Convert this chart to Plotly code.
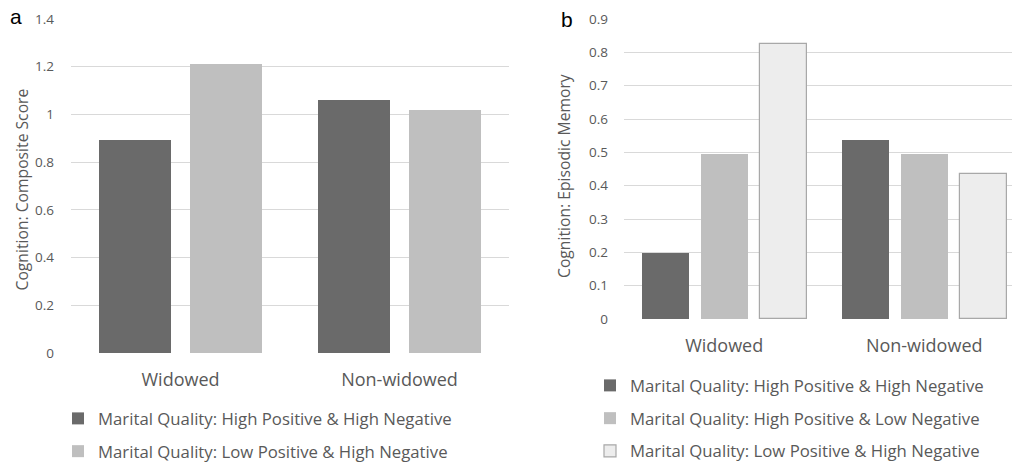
import plotly.graph_objects as go

categories = ["Widowed", "Non-widowed"]
a_names = ["Marital Quality: High Positive & High Negative",
           "Marital Quality: Low Positive & High Negative"]
a_hphn = [0.892, 1.061]
a_lphn = [1.211, 1.017]

b_names = ["Marital Quality: High Positive & High Negative",
           "Marital Quality: High Positive & Low Negative",
           "Marital Quality: Low Positive & High Negative"]
b_hphn = [0.197, 0.537]
b_hpln = [0.495, 0.495]
b_lphn = [0.824, 0.434]

a_ticks = [0, 0.2, 0.4, 0.6, 0.8, 1, 1.2, 1.4]
b_ticks = [0, 0.1, 0.2, 0.3, 0.4, 0.5, 0.6, 0.7, 0.8, 0.9]

a_ytitle = "Cognition: Composite Score"
b_ytitle = "Cognition: Episodic Memory"

DARK = "#6a6a6a"
LIGHT = "#bfbfbf"
LIGHTEST = "#ededed"
EDGE = "#a8a8a8"
GRID = "#d9d9d9"
TXT = "#595959"
FONT = "Open Sans"

W, H = 1012, 465

def px(x):
    return x / W

def py(y):
    return (H - y) / H

fig = go.Figure()

# Panel a
fig.add_trace(go.Bar(x=categories, y=a_hphn, name=a_names[0], marker=dict(color=DARK, line=dict(width=0)),
                     width=0.332, offset=-0.374, xaxis="x", yaxis="y", legend="legend", legendgroup="a1"))
fig.add_trace(go.Bar(x=categories, y=a_lphn, name=a_names[1], marker=dict(color=LIGHT, line=dict(width=0)),
                     width=0.332, offset=0.042, xaxis="x", yaxis="y", legend="legend", legendgroup="a2"))

# Panel b
fig.add_trace(go.Bar(x=categories, y=b_hphn, name=b_names[0], marker=dict(color=DARK, line=dict(width=0)),
                     width=0.235, offset=-0.4125, xaxis="x2", yaxis="y2", legend="legend2", legendgroup="b1"))
fig.add_trace(go.Bar(x=categories, y=b_hpln, name=b_names[1], marker=dict(color=LIGHT, line=dict(width=0)),
                     width=0.235, offset=-0.1175, xaxis="x2", yaxis="y2", legend="legend2", legendgroup="b2"))
fig.add_trace(go.Bar(x=categories, y=b_lphn, name=b_names[2], marker=dict(color=LIGHTEST, line=dict(width=1.2, color=EDGE)),
                     width=0.235, offset=0.1775, xaxis="x2", yaxis="y2", legend="legend2", legendgroup="b3"))

axis_common = dict(showline=False, zeroline=False, automargin=False)

fig.update_layout(
    width=W, height=H,
    margin=dict(l=0, r=0, t=0, b=0, autoexpand=False),
    paper_bgcolor="white", plot_bgcolor="white",
    font=dict(family=FONT, color=TXT),
    barmode="overlay",
    xaxis=dict(domain=[px(71), px(509)], anchor="y", type="category", range=[-0.5, 1.5],
               showgrid=False, ticks="", tickfont=dict(size=18, color=TXT), ticklabelstandoff=14,
               **axis_common),
    yaxis=dict(domain=[py(353), py(19)], anchor="x", range=[0, 1.4], tickvals=a_ticks,
               ticktext=[f"{v:g}" for v in a_ticks],
               showgrid=True, gridcolor=GRID, gridwidth=1.3, tickfont=dict(size=13.5, color=TXT),
               ticks="", ticklabelstandoff=16, **axis_common),
    xaxis2=dict(domain=[px(624), 1.0], anchor="y2", type="category", range=[-0.501, 1.439],
                showgrid=False, ticks="", tickfont=dict(size=18, color=TXT), ticklabelstandoff=14,
                **axis_common),
    yaxis2=dict(domain=[py(319), py(19)], anchor="x2", range=[0, 0.9], tickvals=b_ticks,
                ticktext=[f"{v:g}" for v in b_ticks],
                showgrid=True, gridcolor=GRID, gridwidth=1.3, tickfont=dict(size=13.5, color=TXT),
                ticks="", ticklabelstandoff=15, **axis_common),
    legend=dict(x=px(58), y=py(401), xref="container", yref="container", xanchor="left", yanchor="top",
                orientation="v", font=dict(size=16.75, color=TXT), tracegroupgap=8, itemwidth=30,
                bgcolor="rgba(0,0,0,0)"),
    legend2=dict(x=px(590), y=py(368), xref="container", yref="container", xanchor="left", yanchor="top",
                 orientation="v", font=dict(size=16.75, color=TXT), tracegroupgap=8, itemwidth=30,
                 bgcolor="rgba(0,0,0,0)"),
    showlegend=True,
    bargap=0,
)

# Axis titles (rotated)
fig.add_annotation(text=a_ytitle, textangle=-90, x=px(21.5), y=py(190), xref="paper", yref="paper",
                   xanchor="center", yanchor="middle", showarrow=False, font=dict(size=15.7, color=TXT))
fig.add_annotation(text=b_ytitle, textangle=-90, x=px(564), y=py(176), xref="paper", yref="paper",
                   xanchor="center", yanchor="middle", showarrow=False, font=dict(size=15.7, color=TXT))

# Panel letters
fig.add_annotation(text="a", x=px(16), y=py(17), xref="paper", yref="paper", xanchor="center", yanchor="middle",
                   showarrow=False, font=dict(family="Liberation Sans", size=21, color="black"))
fig.add_annotation(text="b", x=px(566.5), y=py(19), xref="paper", yref="paper", xanchor="center", yanchor="middle",
                   showarrow=False, font=dict(family="Liberation Sans", size=21, color="black"))

fig.write_html("out.html", config={"displayModeBar": False},
               post_script="document.body.style.margin='0';")
